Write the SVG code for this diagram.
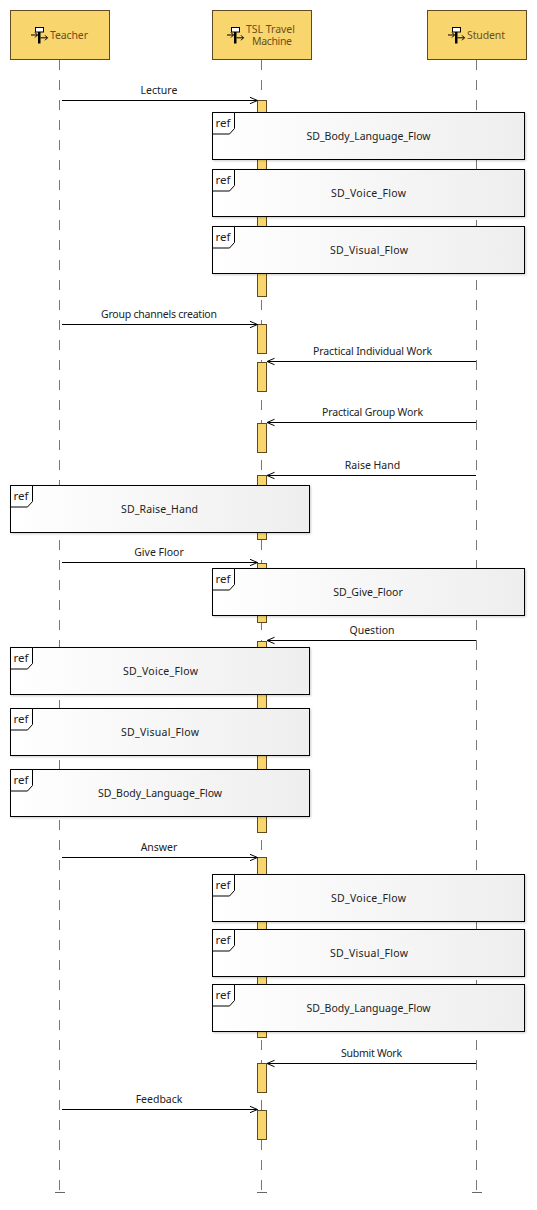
<svg xmlns="http://www.w3.org/2000/svg" xmlns:xlink="http://www.w3.org/1999/xlink" width="537" height="1210" viewBox="0 0 537 1210">
<style>
text{font-family:"Noto Sans","Open Sans","DejaVu Sans",sans-serif;font-size:10.5px;fill:#222;text-anchor:middle}
.pt{fill:#6b4f1d;font-size:10.500px}
.part{fill:#f8d66d;stroke:#5f4a22;stroke-width:1}
.life{stroke:#777;stroke-width:1;stroke-dasharray:10 10;fill:none}
.end{stroke:#666;stroke-width:1.2;fill:none}
.act{fill:#f8d66d;stroke:#5f4a22;stroke-width:1}
.msg{stroke:#000;stroke-width:1;fill:none}
.box{fill:url(#g);stroke:#000;stroke-width:1;filter:url(#s)}
.tab{fill:#fff;stroke:#000;stroke-width:1}
.rt{text-anchor:start;font-size:11.5px}
.ic{fill:none;stroke:#000;stroke-width:1}
</style>
<defs>
<linearGradient id="g" x1="0" x2="1" y1="0" y2="0"><stop offset="0" stop-color="#fff"/><stop offset="1" stop-color="#eee"/></linearGradient>
<filter id="s" x="-2%" y="-5%" width="104%" height="115%"><feDropShadow dx="1" dy="1" stdDeviation="1" flood-color="#000" flood-opacity=".2"/></filter>
<marker id="a" markerWidth="10" markerHeight="10" refX="8" refY="4" orient="auto" markerUnits="userSpaceOnUse"><path d="M0.5 0.8L8 4L0.5 7.2" fill="none" stroke="#000" stroke-width="1"/></marker>
<g id="icon">
<rect x="-4.500" y="-7.500" width="8" height="4.500" fill="#fff" stroke="#000"/>
<rect x="-2" y="-3" width="2.500" height="11.500" fill="#000"/>
<path class="ic" d="M-9 0H-2.500M-5 -2.500L-2.500 0L-5 2.500M0.500 2.800H7.500M5 0.300L7.500 2.800L5 5.300"/>
</g>
<g id="tab">
<path class="tab" d="M0 0H22V16L17 21.500H0Z"/>
<text class="rt" x="3" y="14">ref</text>
</g>
</defs>

<g id="lifelines">
<path class="life" d="M59.500 60V1192"/>
<path class="life" d="M261.500 60V1192"/>
<path class="life" d="M476.500 60V1192"/>
<path class="end" d="M55 1192.500H65M257 1192.500H267M472 1192.500H482"/>
</g>

<g id="activations">
<rect class="act" x="257.500" y="100.500" width="9" height="196"/>
<rect class="act" x="257.500" y="324.500" width="9" height="29"/>
<rect class="act" x="257.500" y="362.500" width="9" height="29"/>
<rect class="act" x="257.500" y="423.500" width="9" height="29"/>
<rect class="act" x="257.500" y="475.500" width="9" height="64"/>
<rect class="act" x="257.500" y="563.500" width="9" height="59"/>
<rect class="act" x="257.500" y="641.500" width="9" height="191"/>
<rect class="act" x="257.500" y="857.500" width="9" height="180"/>
<rect class="act" x="257.500" y="1063.500" width="9" height="29"/>
<rect class="act" x="257.500" y="1110.500" width="9" height="29"/>
</g>

<g id="teacher"><rect class="part" x="10.500" y="10.500" width="99" height="49"/><use href="#icon" x="40" y="35"/><text class="pt" x="69" y="38.500" textLength="38">Teacher</text></g>
<g id="tsl"><rect class="part" x="212.500" y="10.500" width="99" height="49"/><use href="#icon" x="236" y="35"/><text class="pt" x="270.500" y="33" textLength="49">TSL Travel</text><text class="pt" x="272" y="45" textLength="40">Machine</text></g>
<g id="student"><rect class="part" x="427.500" y="10.500" width="99" height="49"/><use href="#icon" x="457" y="35"/><text class="pt" x="486" y="38.500" textLength="38">Student</text></g>

<g id="connectors">
<path class="msg" marker-end="url(#a)" d="M62 100.500H257.500"/>
<path class="msg" marker-end="url(#a)" d="M62 324.500H257.500"/>
<path class="msg" marker-end="url(#a)" d="M476 361.500H267"/>
<path class="msg" marker-end="url(#a)" d="M476 422.500H267"/>
<path class="msg" marker-end="url(#a)" d="M476 475.500H267"/>
<path class="msg" marker-end="url(#a)" d="M62 562.500H257.500"/>
<path class="msg" marker-end="url(#a)" d="M476 640.500H267"/>
<path class="msg" marker-end="url(#a)" d="M62 857.500H257.500"/>
<path class="msg" marker-end="url(#a)" d="M476 1063.500H267"/>
<path class="msg" marker-end="url(#a)" d="M62 1109.500H257.500"/>
<text x="159" y="94">Lecture</text>
<text x="159" y="318" textLength="116">Group channels creation</text>
<text x="372.500" y="355" textLength="119">Practical Individual Work</text>
<text x="372.500" y="416" textLength="101">Practical Group Work</text>
<text x="372.500" y="469">Raise Hand</text>
<text x="159" y="556">Give Floor</text>
<text x="372" y="634">Question</text>
<text x="159" y="851">Answer</text>
<text x="371.500" y="1057" textLength="61">Submit Work</text>
<text x="159" y="1103">Feedback</text>
</g>

<g id="ref1"><rect class="box" x="212.500" y="112.500" width="312" height="47"/><use href="#tab" x="212.500" y="112.500"/><text x="368.500" y="140">SD_Body_Language_Flow</text></g>
<g id="ref2"><rect class="box" x="212.500" y="169.500" width="312" height="47"/><use href="#tab" x="212.500" y="169.500"/><text x="368.500" y="197" textLength="75">SD_Voice_Flow</text></g>
<g id="ref3"><rect class="box" x="212.500" y="226.500" width="312" height="47"/><use href="#tab" x="212.500" y="226.500"/><text x="369" y="254" textLength="78">SD_Visual_Flow</text></g>
<g id="ref4"><rect class="box" x="10.500" y="485.500" width="299" height="47"/><use href="#tab" x="10.500" y="485.500"/><text x="159.500" y="513" textLength="77">SD_Raise_Hand</text></g>
<g id="ref5"><rect class="box" x="212.500" y="568.500" width="312" height="47"/><use href="#tab" x="212.500" y="568.500"/><text x="368" y="596">SD_Give_Floor</text></g>
<g id="ref6"><rect class="box" x="10.500" y="647.500" width="299" height="47"/><use href="#tab" x="10.500" y="647.500"/><text x="160.500" y="675" textLength="75">SD_Voice_Flow</text></g>
<g id="ref7"><rect class="box" x="10.500" y="708.500" width="299" height="47"/><use href="#tab" x="10.500" y="708.500"/><text x="160" y="736" textLength="78">SD_Visual_Flow</text></g>
<g id="ref8"><rect class="box" x="10.500" y="769.500" width="299" height="47"/><use href="#tab" x="10.500" y="769.500"/><text x="160" y="797">SD_Body_Language_Flow</text></g>
<g id="ref9"><rect class="box" x="212.500" y="874.500" width="312" height="47"/><use href="#tab" x="212.500" y="874.500"/><text x="368.500" y="902" textLength="75">SD_Voice_Flow</text></g>
<g id="ref10"><rect class="box" x="212.500" y="929.500" width="312" height="47"/><use href="#tab" x="212.500" y="929.500"/><text x="369" y="957" textLength="78">SD_Visual_Flow</text></g>
<g id="ref11"><rect class="box" x="212.500" y="984.500" width="312" height="47"/><use href="#tab" x="212.500" y="984.500"/><text x="368.500" y="1012">SD_Body_Language_Flow</text></g>
</svg>
